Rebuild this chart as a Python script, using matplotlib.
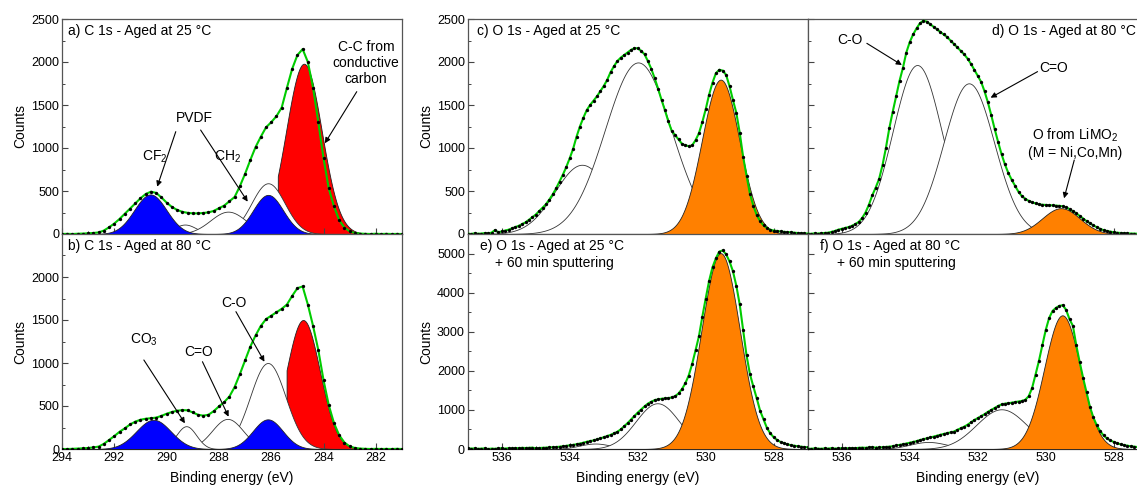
import numpy as np
import matplotlib
matplotlib.use("Agg")
import matplotlib.pyplot as plt
from matplotlib.ticker import MultipleLocator

plt.rcParams['font.family'] = ['Liberation Sans', 'DejaVu Sans']
plt.rcParams['mathtext.default'] = 'regular'

# binding energy of the measured points (eV), high -> low
c1s_energy = np.round(np.linspace(294.0, 281.0, 66), 2)
o1s_energy = np.round(np.linspace(537.0, 527.0, 101), 2)

a_counts = [0, 2, 0, 3, 5, 8, 12, 18, 40, 78,
            122, 175, 235, 295, 355, 415, 465, 492, 478, 425,
            365, 315, 280, 258, 246, 240, 240, 244, 252, 268,
            300, 330, 380, 430, 555, 700, 860, 1010, 1130, 1240,
            1300, 1370, 1470, 1700, 1920, 2080, 2150, 2000, 1700, 1300,
            880, 530, 320, 160, 75, 30, 12, 5, 2, 0,
            3, 0, 2, 0, 1, 0]
b_counts = [0, 0, 2, 5, 8, 12, 18, 28, 60, 105,
            150, 200, 240, 285, 318, 340, 352, 358, 365, 385,
            410, 430, 445, 452, 450, 425, 398, 388, 398, 440,
            495, 545, 610, 720, 870, 1030, 1190, 1320, 1430, 1510,
            1550, 1590, 1630, 1680, 1780, 1870, 1890, 1680, 1430, 1150,
            800, 510, 300, 160, 75, 30, 12, 5, 2, 0,
            2, 0, 1, 0, 2, 0]
c_counts = [5, 0, 8, 3, 5, 10, 8, 15, 45, 20,
            30, 40, 50, 65, 80, 95, 115, 135, 165, 195,
            225, 265, 305, 345, 400, 460, 530, 610, 690, 780,
            880, 990, 1130, 1250, 1350, 1440, 1500, 1550, 1600, 1660,
            1720, 1790, 1880, 1950, 2010, 2050, 2080, 2110, 2140, 2160,
            2160, 2130, 2090, 2010, 1920, 1810, 1690, 1560, 1440, 1310,
            1200, 1150, 1100, 1050, 1030, 1022, 1030, 1090, 1170, 1300,
            1450, 1620, 1760, 1870, 1910, 1900, 1850, 1720, 1560, 1410,
            1180, 900, 680, 470, 330, 220, 150, 100, 70, 50,
            40, 35, 30, 25, 22, 20, 15, 12, 10, 8,
            5]
d_counts = [5, 2, 8, 5, 10, 12, 15, 25, 35, 50,
            60, 70, 80, 95, 115, 140, 185, 250, 340, 450,
            540, 640, 800, 1000, 1230, 1420, 1600, 1780, 1930, 2110,
            2230, 2320, 2390, 2450, 2480, 2470, 2440, 2410, 2380, 2350,
            2320, 2290, 2250, 2210, 2170, 2130, 2090, 2040, 1980, 1910,
            1840, 1770, 1660, 1530, 1380, 1220, 1070, 930, 810, 710,
            630, 560, 490, 440, 410, 385, 370, 355, 345, 340,
            338, 335, 333, 330, 327, 322, 310, 290, 265, 240,
            210, 180, 150, 125, 100, 80, 60, 45, 35, 28,
            20, 15, 12, 10, 8, 5, 5, 3, 2, 1,
            0]
e_counts = [20, 10, 15, 5, 10, 15, 0, 10, 5, 15,
            20, 10, 20, 15, 25, 20, 30, 25, 30, 35,
            20, 25, 30, 35, 40, 45, 50, 58, 70, 80,
            95, 105, 120, 140, 160, 185, 200, 220, 245, 272,
            300, 330, 360, 400, 440, 500, 580, 660, 750, 840,
            930, 1010, 1090, 1160, 1210, 1250, 1270, 1285, 1295, 1300,
            1320, 1350, 1420, 1530, 1680, 1880, 2170, 2520, 2880, 3380,
            3850, 4300, 4650, 4880, 5050, 5080, 4980, 4800, 4550, 4180,
            3700, 3050, 2400, 1920, 1600, 1300, 980, 760, 540, 400,
            300, 230, 180, 150, 120, 100, 85, 70, 60, 50,
            45]
f_counts = [10, 5, 15, 10, 5, 15, 10, 20, 10, 15,
            20, 15, 20, 25, 20, 30, 35, 30, 40, 45,
            35, 40, 45, 52, 60, 70, 90, 105, 120, 140,
            160, 180, 200, 228, 250, 272, 295, 315, 340, 362,
            385, 405, 425, 445, 490, 530, 570, 620, 680, 740,
            790, 840, 890, 950, 1000, 1050, 1100, 1140, 1160, 1170,
            1185, 1200, 1215, 1230, 1260, 1350, 1560, 1900, 2250, 2650,
            3040, 3350, 3530, 3610, 3660, 3680, 3560, 3320, 3150, 2650,
            2220, 1820, 1450, 1080, 810, 610, 460, 350, 270, 220,
            180, 150, 120, 100, 85, 70, 60, 50, 45, 40,
            35]

# fitted components: (centre eV, height counts, FWHM eV)
a_cc = (284.75, 1980, 1.6, 285.75)   # C-C, last value = where its filled curve starts
a_white = [(286.12, 590, 1.5), (289.3, 110, 1.0), (287.65, 260, 1.6)]
a_pvdf = [(290.62, 460, 1.45), (286.12, 455, 1.35)]

b_cc = (284.78, 1500, 1.5, 285.42)
b_white = [(286.13, 1000, 1.6), (287.67, 350, 1.4), (289.25, 265, 0.9)]
b_pvdf = [(290.5, 340, 1.55), (286.13, 345, 1.35)]

c_white = [(533.64, 805, 1.9), (531.99, 1995, 2.3)]
c_oxide = [(529.56, 1795, 1.3)]
d_white = [(533.78, 1965, 1.7), (532.26, 1752, 1.75)]
d_oxide = [(529.55, 300, 1.3)]
e_white = [(533.25, 140, 1.1), (531.42, 1170, 1.5)]
e_oxide = [(529.56, 5010, 1.33)]
f_white = [(533.45, 180, 1.3), (531.3, 1016, 1.75)]
f_oxide = [(529.51, 3420, 1.25)]

BLUE = '#0000FF'
RED = '#FF0000'
ORANGE = '#FF8000'
GREEN = '#00CC00'


def peak(x, c, h, w):
    return h * np.exp(-4 * np.log(2) * (x - c) ** 2 / w ** 2)


def spectrum(ax, energy, counts, xlim, white, filled, colour, red=None):
    xs = np.linspace(xlim[0], xlim[1], 1200)
    if red is not None:
        c, h, w, start = red
        m = xs <= start
        ax.fill_between(xs[m], 0, peak(xs[m], c, h, w), facecolor=RED,
                        edgecolor='#222222', lw=0.6, zorder=1)
    for c, h, w in white:
        ax.fill_between(xs, 0, peak(xs, c, h, w), facecolor='white',
                        edgecolor='#333333', lw=0.6, zorder=2)
    for c, h, w in filled:
        ax.fill_between(xs, 0, peak(xs, c, h, w), facecolor=colour,
                        edgecolor='#222222', lw=0.6, zorder=3)
    ax.plot(energy, counts, color=GREEN, lw=1.5, zorder=4)
    ax.plot(energy, counts, 'o', ms=2.4, color='k', mec='none', zorder=5)
    ax.set_xlim(*xlim)


def frame(ax, ymax, ymajor, yminor):
    ax.set_ylim(0, ymax)
    ax.yaxis.set_major_locator(MultipleLocator(ymajor))
    ax.yaxis.set_minor_locator(MultipleLocator(yminor))
    ax.xaxis.set_major_locator(MultipleLocator(2))
    ax.xaxis.set_minor_locator(MultipleLocator(1))
    ax.tick_params(which='both', direction='in', labelsize=9, pad=2,
                   color='#444444')
    ax.tick_params(which='major', length=4, width=0.8)
    ax.tick_params(which='minor', length=2.5, width=0.7)
    for s in ax.spines.values():
        s.set_color('#555555')
        s.set_linewidth(0.9)


def arrow(ax, start, tip):
    ax.annotate('', xy=tip, xytext=start,
                arrowprops=dict(arrowstyle='-|>', color='k', lw=0.8,
                                mutation_scale=8, shrinkA=0, shrinkB=0),
                zorder=6)


W, H = 1137, 491
fig = plt.figure(figsize=(W / 100, H / 100), dpi=100)
pw, ph = 340 / W, 215 / H
ax_a = fig.add_axes([62 / W, 1 - 234 / H, pw, ph])
ax_b = fig.add_axes([62 / W, 1 - 449 / H, pw, ph])
ax_c = fig.add_axes([467.7 / W, 1 - 234 / H, pw, ph])
ax_d = fig.add_axes([807.7 / W, 1 - 234 / H, pw, ph])
ax_e = fig.add_axes([467.7 / W, 1 - 449 / H, pw, ph])
ax_f = fig.add_axes([807.7 / W, 1 - 449 / H, pw, ph])

spectrum(ax_a, c1s_energy, a_counts, (294, 281), a_white, a_pvdf, BLUE, a_cc)
spectrum(ax_b, c1s_energy, b_counts, (294, 281), b_white, b_pvdf, BLUE, b_cc)
spectrum(ax_c, o1s_energy, c_counts, (537, 527), c_white, c_oxide, ORANGE)
spectrum(ax_d, o1s_energy, d_counts, (537, 527), d_white, d_oxide, ORANGE)
spectrum(ax_e, o1s_energy, e_counts, (537, 527), e_white, e_oxide, ORANGE)
spectrum(ax_f, o1s_energy, f_counts, (537, 527), f_white, f_oxide, ORANGE)

for ax in (ax_a, ax_b, ax_c, ax_d):
    frame(ax, 2500, 500, 250)
for ax in (ax_e, ax_f):
    frame(ax, 5500, 1000, 500)
ax_b.set_yticks([0, 500, 1000, 1500, 2000])

for ax in (ax_a, ax_c, ax_d):
    ax.tick_params(labelbottom=False)
for ax in (ax_d, ax_f):
    ax.tick_params(labelleft=False)

for ax in (ax_a, ax_b, ax_c, ax_e):
    ax.set_ylabel('Counts', fontsize=10, labelpad=3)
for ax in (ax_b, ax_e, ax_f):
    ax.set_xlabel('Binding energy (eV)', fontsize=10, labelpad=5)

tkw = dict(va='top', fontsize=10)
ax_a.text(0.018, 0.975, 'a) C 1s - Aged at 25 °C', transform=ax_a.transAxes, **tkw)
ax_b.text(0.018, 0.975, 'b) C 1s - Aged at 80 °C', transform=ax_b.transAxes, **tkw)
ax_c.text(0.026, 0.975, 'c) O 1s - Aged at 25 °C', transform=ax_c.transAxes, **tkw)
ax_d.text(0.543, 0.975, 'd) O 1s - Aged at 80 °C', transform=ax_d.transAxes, **tkw)
ax_e.text(0.036, 0.975, 'e) O 1s - Aged at 25 °C', transform=ax_e.transAxes, **tkw)
ax_e.text(0.08, 0.897, '+ 60 min sputtering', transform=ax_e.transAxes, **tkw)
ax_f.text(0.036, 0.975, 'f) O 1s - Aged at 80 °C', transform=ax_f.transAxes, **tkw)
ax_f.text(0.085, 0.897, '+ 60 min sputtering', transform=ax_f.transAxes, **tkw)

lkw = dict(ha='center', va='center', fontsize=10, zorder=6)
# a) labels
ax_a.text(290.44, 895, 'CF$_2$', **lkw)
ax_a.text(288.95, 1345, 'PVDF', **lkw)
ax_a.text(287.67, 899, 'CH$_2$', **lkw)
ax_a.text(282.38, 1988, 'C-C from\nconductive\ncarbon', **lkw)
arrow(ax_a, (289.65, 1190), (290.36, 550))
arrow(ax_a, (288.7, 1209), (286.9, 376))
arrow(ax_a, (282.73, 1655), (283.95, 1055))
# b) labels
ax_b.text(290.87, 1267, 'CO$_3$', **lkw)
ax_b.text(288.76, 1131, 'C=O', **lkw)
ax_b.text(287.41, 1694, 'C-O', **lkw)
arrow(ax_b, (290.87, 1035), (289.3, 299))
arrow(ax_b, (288.63, 1015), (287.63, 376))
arrow(ax_b, (287.35, 1597), (286.26, 1015))
# d) labels
ax_d.text(535.75, 2256, 'C-O', **lkw)
ax_d.text(529.76, 1927, 'C=O', **lkw)
ax_d.text(529.12, 1054, 'O from LiMO$_2$\n(M = Ni,Co,Mn)', **lkw)
arrow(ax_d, (535.26, 2217), (534.23, 1965))
arrow(ax_d, (530.24, 1888), (531.62, 1585))
arrow(ax_d, (529.16, 860), (529.46, 415))

fig.savefig('out.png', dpi=100)
